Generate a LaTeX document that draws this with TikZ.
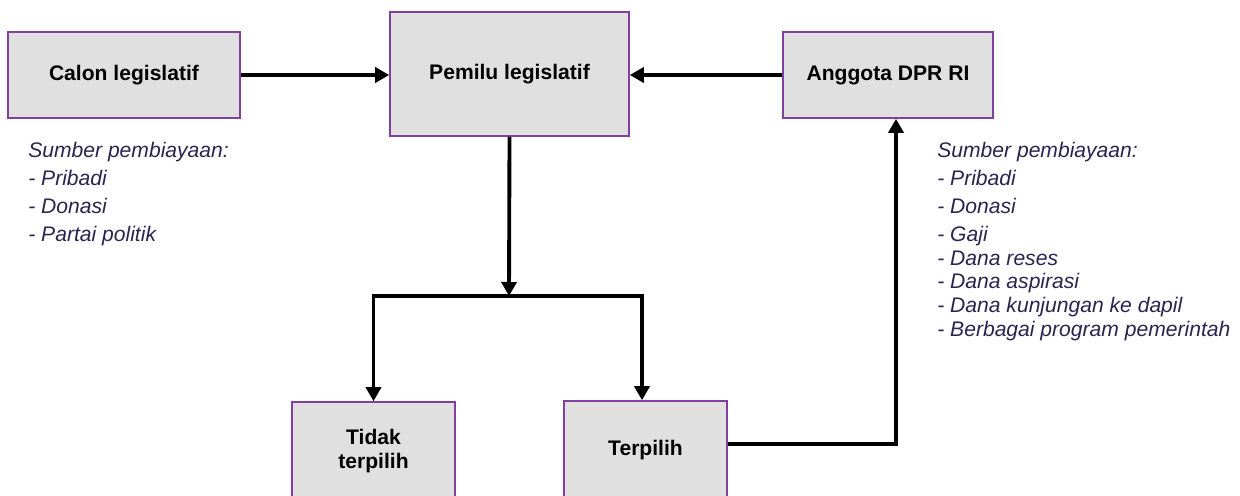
\documentclass[tikz,border=0pt]{standalone}
\usepackage{fontspec}
\setmainfont{Liberation Sans}
\usetikzlibrary{arrows.meta}

\definecolor{boxfill}{RGB}{224,224,224}
\definecolor{boxline}{RGB}{128,64,160}
\definecolor{listtext}{RGB}{43,35,80}

\tikzset{
    stage/.style={draw=boxline,line width=0.9pt,fill=boxfill,align=center,
        font=\fontsize{12}{14}\selectfont\bfseries},
    flow/.style={line width=2.2pt,-{Triangle[length=0.28cm,width=0.3cm]}},
    sources/.style={anchor=north west,inner sep=0pt,align=left,text=listtext,
        font=\fontsize{12}{15.9}\selectfont\itshape}
}

\begin{document}
\begin{tikzpicture}
    \useasboundingbox (0,0) rectangle (24.8,-9.9);

    \node[stage,minimum width=4.64cm,minimum height=1.72cm](calon)at(2.48,-1.50){Calon legislatif};
    \node[stage,minimum width=4.78cm,minimum height=2.48cm](pemilu)at(10.19,-1.48){Pemilu legislatif};
    \node[stage,minimum width=4.2cm,minimum height=1.72cm](anggota)at(17.76,-1.50){Anggota DPR RI};
    \node[stage,minimum width=3.26cm,minimum height=1.96cm](tidak)at(7.47,-9.02){Tidak\\terpilih};
    \node[stage,minimum width=3.26cm,minimum height=1.96cm](terpilih)at(12.91,-9.00){Terpilih};
    \coordinate(split)at(10.18,-5.92);

    \node[sources](danacalon)at(0.56,-2.84){Sumber pembiayaan:\\- Pribadi\\- Donasi\\- Partai politik};
    \node[sources](danaanggota)at(18.74,-2.84){Sumber pembiayaan:\\- Pribadi\\- Donasi\\- Gaji\\[-2.4pt]- Dana reses\\[-2.4pt]- Dana aspirasi\\[-2.4pt]- Dana kunjungan ke dapil\\[-2.4pt]- Berbagai program pemerintah};

    \draw[flow](calon.east)--(calon.east-|pemilu.west);
    \draw[flow](anggota.west)--(anggota.west-|pemilu.east);
    \draw[flow](pemilu.south)--(split);
    \draw[flow](split)-|(tidak.north);
    \draw[flow](split)-|([xshift=-0.07cm]terpilih.north);
    \draw[flow]([yshift=0.12cm]terpilih.east)-|([xshift=0.16cm]anggota.south);
\end{tikzpicture}
\end{document}
